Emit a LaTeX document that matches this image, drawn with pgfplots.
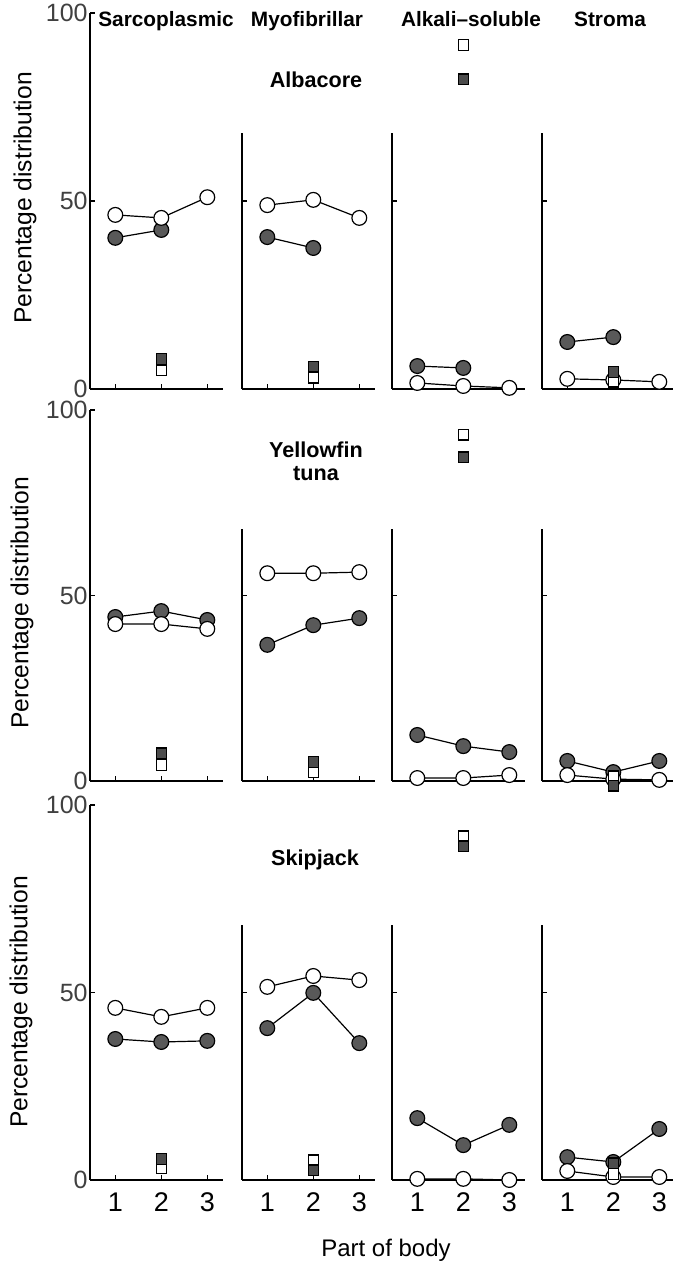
\documentclass[border=0pt]{standalone}
\usepackage{fontspec}
\setmainfont{Liberation Sans}
\usepackage{pgfplots}
\pgfplotsset{compat=1.18}

\pgfplotsset{
  panel/.style={
    scale only axis, anchor=south west, clip=false,
    x=23pt, xmin=0.45, xmax=3.34, ymin=0, ymax=100,
    axis x line=bottom, axis y line=left,
    axis line style={line width=1.1pt, -},
    xtick={1,2,3}, ytick={0,50,100},
    tick align=inside, major tick length=2.5pt,
    tick style={line width=0.7pt, black},
    /pgf/number format/assume math mode=true,
    yticklabel style={font=\fontsize{12.5}{13}\selectfont, text=black!75, inner sep=1pt},
    xticklabel style={font=\fontsize{13.5}{14}\selectfont, yshift=-3pt},
  },
  short/.style={ymax=68, ytick={50}, yticklabels={}},
  nox/.style={xticklabels={}},
}

% #1 position, #2 options, #3 open circles, #4 filled circles, #5 open square, #6 filled square
\newcommand{\panel}[6]{%
  \begin{axis}[panel, at={#1}, #2]
    \addplot[black, line width=0.6pt, mark=*, mark size=3.7pt,
      mark options={fill=black!65, line width=0.6pt}] coordinates {#4};
    \addplot[black, line width=0.6pt, mark=*, mark size=3.7pt,
      mark options={fill=white, line width=0.6pt}] coordinates {#3};
    \addplot[black, only marks, mark=square*, mark size=2.6pt,
      mark options={fill=white, line width=0.6pt}] coordinates {(2,#5)};
    \addplot[black, only marks, mark=square*, mark size=2.6pt,
      mark options={fill=black!70, line width=0.6pt}] coordinates {(2,#6)};
  \end{axis}}

\begin{document}
\begin{tikzpicture}

% Albacore
\panel{(45pt,440pt)}{y=1.88pt, nox}
  {(1,46.3) (2,45.5) (3,51.0)}{(1,40.2) (2,42.3)}{5.0}{8.0}
\panel{(121pt,440pt)}{y=1.88pt, nox, short}
  {(1,48.9) (2,50.3) (3,45.5)}{(1,40.4) (2,37.5)}{3.0}{6.0}
\panel{(196pt,440pt)}{y=1.88pt, nox, short}
  {(1,1.6) (2,0.8) (3,0.3)}{(1,6.1) (2,5.6)}{91.5}{82.4}
\panel{(271pt,440pt)}{y=1.88pt, nox, short}
  {(1,2.7) (2,2.4) (3,1.9)}{(1,12.5) (2,13.8)}{1.9}{4.5}

% Yellowfin tuna
\panel{(45pt,244pt)}{y=1.855pt, nox}
  {(1,42.3) (2,42.3) (3,41.0)}{(1,44.2) (2,45.8) (3,43.4)}{4.3}{7.5}
\panel{(121pt,244pt)}{y=1.855pt, nox, short}
  {(1,56.0) (2,56.0) (3,56.3)}{(1,36.7) (2,42.0) (3,43.9)}{2.4}{5.1}
\panel{(196pt,244pt)}{y=1.855pt, nox, short}
  {(1,0.8) (2,0.8) (3,1.6)}{(1,12.4) (2,9.4) (3,7.8)}{93.3}{87.3}
\panel{(271pt,244pt)}{y=1.855pt, nox, short}
  {(1,1.6) (2,0.5) (3,0.3)}{(1,5.4) (2,2.4) (3,5.4)}{1.3}{-1.3}

% Skipjack
\panel{(45pt,44.5pt)}{y=1.875pt}
  {(1,45.9) (2,43.5) (3,45.9)}{(1,37.6) (2,36.8) (3,37.1)}{3.2}{5.6}
\panel{(121pt,44.5pt)}{y=1.875pt, short}
  {(1,51.5) (2,54.4) (3,53.3)}{(1,40.5) (2,49.9) (3,36.5)}{5.3}{2.6}
\panel{(196pt,44.5pt)}{y=1.875pt, short}
  {(1,0.3) (2,0.3) (3,0.0)}{(1,16.5) (2,9.3) (3,14.7)}{91.7}{89.0}
\panel{(271pt,44.5pt)}{y=1.875pt, short}
  {(1,2.4) (2,0.8) (3,0.8)}{(1,6.1) (2,4.8) (3,13.6)}{1.6}{4.5}

% column titles
\begin{scope}[every node/.style={font=\fontsize{10.4}{12}\selectfont\bfseries, anchor=base}]
\node at (83pt,621pt) {Sarcoplasmic};
\node at (153.5pt,621pt) {Myofibrillar};
\node at (235.5pt,621pt) {Alkali–soluble};
\node at (305pt,621pt) {Stroma};
\end{scope}

% species
\begin{scope}[every node/.style={font=\fontsize{10.8}{11.5}\selectfont\bfseries, align=center}]
\node at (158pt,594.5pt) {Albacore};
\node at (158pt,403.75pt) {Yellowfin\\tuna};
\node at (157.5pt,204.5pt) {Skipjack};
\end{scope}

% axis titles
\begin{scope}[every node/.style={font=\fontsize{12.3}{14}\selectfont, rotate=90}]
\node at (12.5pt,535.5pt) {Percentage distribution};
\node at (11pt,333pt) {Percentage distribution};
\node at (10.5pt,133.5pt) {Percentage distribution};
\end{scope}
\node[font=\fontsize{12}{14}\selectfont] at (193pt,9.5pt) {Part of body};

\pgfresetboundingbox
\path[use as bounding box] (0pt,0pt) rectangle (336.5pt,634.5pt);
\end{tikzpicture}
\end{document}
